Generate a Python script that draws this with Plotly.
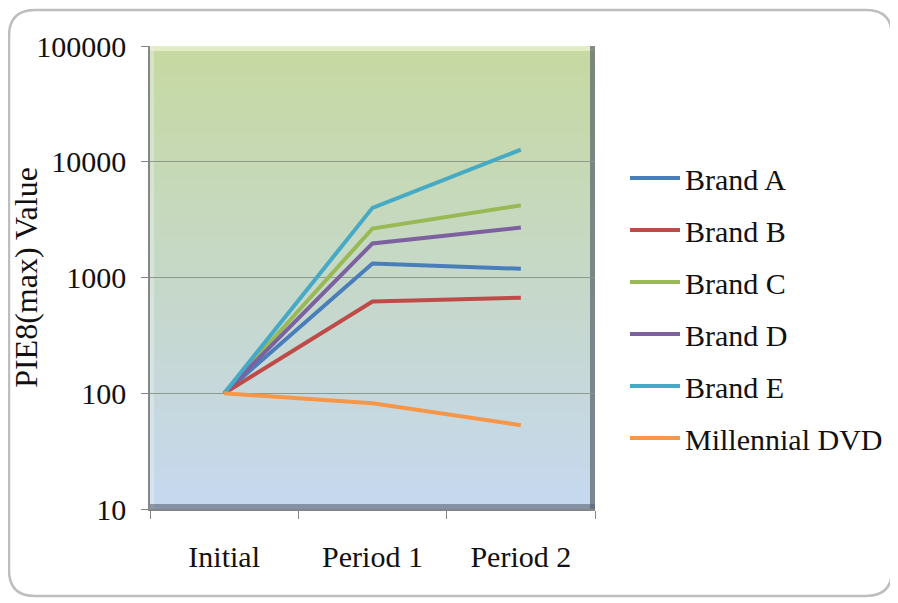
import plotly.graph_objects as go

# ---- data ----
periods = ["Initial", "Period 1", "Period 2"]
brand_a = [100, 1320, 1190]
brand_b = [100, 620, 670]
brand_c = [100, 2650, 4200]
brand_d = [100, 1970, 2700]
brand_e = [100, 4000, 12700]
millennial_dvd = [100, 82, 53]
y_ticks = [10, 100, 1000, 10000, 100000]

series = [
    ("Brand A", brand_a, "#4A7EBB"),
    ("Brand B", brand_b, "#BE4B48"),
    ("Brand C", brand_c, "#98B954"),
    ("Brand D", brand_d, "#7D60A0"),
    ("Brand E", brand_e, "#46AAC5"),
    ("Millennial DVD", millennial_dvd, "#F79646"),
]

OFF = 8  # page body margin offset
W, H = 898 - OFF, 603 - OFF
L, R, T, B = 150 - OFF, 595 - OFF, 46 - OFF, 509 - OFF  # plot area in figure px


def px(x):  # x in reference-image pixels -> paper
    return (x - OFF - L) / (R - L)


def py(y):
    return (B - (y - OFF)) / (B - T)


fig = go.Figure()
for i, (name, vals, col) in enumerate(series):
    fig.add_trace(go.Scatter(
        x=periods, y=vals, name=name, mode="lines",
        line=dict(color=col, width=4),
        legendgroup=f"g{i}",
    ))

shapes = []
# gradient background (green top -> light blue bottom)
top_c = (198, 217, 160)
bot_c = (198, 216, 240)
n = 80
for k in range(n):
    t = (k + 0.5) / n
    c = tuple(int(round(top_c[j] + (bot_c[j] - top_c[j]) * t)) for j in range(3))
    shapes.append(dict(type="rect", xref="paper", yref="paper",
                       x0=0, x1=1, y0=1 - (k + 1) / n - 0.002, y1=1 - k / n,
                       fillcolor=f"rgb{c}", line=dict(width=0), layer="below"))
# bevel: light top/left, dark right/bottom
shapes.append(dict(type="rect", xref="paper", yref="paper", x0=0, x1=1,
                   y0=py(46 + 5), y1=1, fillcolor="rgba(240,245,210,0.7)",
                   line=dict(width=0), layer="below"))
shapes.append(dict(type="rect", xref="paper", yref="paper", x0=0, x1=px(150 + 4),
                   y0=0, y1=1, fillcolor="rgba(230,238,240,0.5)",
                   line=dict(width=0), layer="below"))
shapes.append(dict(type="rect", xref="paper", yref="paper", x0=px(595 - 5), x1=1,
                   y0=0, y1=1, fillcolor="rgba(90,100,105,0.7)",
                   line=dict(width=0), layer="below"))
shapes.append(dict(type="rect", xref="paper", yref="paper", x0=0, x1=1,
                   y0=0, y1=py(509 - 5), fillcolor="rgba(90,100,115,0.6)",
                   line=dict(width=0), layer="below"))

# outer rounded border (reference pixel coords)
bx0, by0, bx1, by1, rr = 9, 10, 892, 596, 26
path = (
    f"M {px(bx0 + rr)},{py(by0)} L {px(bx1 - rr)},{py(by0)} "
    f"Q {px(bx1)},{py(by0)} {px(bx1)},{py(by0 + rr)} "
    f"L {px(bx1)},{py(by1 - rr)} Q {px(bx1)},{py(by1)} {px(bx1 - rr)},{py(by1)} "
    f"L {px(bx0 + rr)},{py(by1)} Q {px(bx0)},{py(by1)} {px(bx0)},{py(by1 - rr)} "
    f"L {px(bx0)},{py(by0 + rr)} Q {px(bx0)},{py(by0)} {px(bx0 + rr)},{py(by0)} Z"
)
shapes.append(dict(type="path", xref="paper", yref="paper", path=path,
                   line=dict(color="#BEBEBE", width=2.5), layer="below"))

font_family = "Liberation Serif, Times New Roman, serif"
txt = "#111111"

fig.update_layout(
    width=W, height=H,
    margin=dict(l=L, r=W - R, t=T, b=H - B, pad=0, autoexpand=False),
    paper_bgcolor="white",
    plot_bgcolor="rgba(0,0,0,0)",
    font=dict(family=font_family, size=30, color=txt),
    shapes=shapes,
    showlegend=True,
    legend=dict(
        x=px(625), xanchor="left", y=py(152), yanchor="top",
        font=dict(size=30, family=font_family, color=txt),
        tracegroupgap=10, itemwidth=50,
        bgcolor="rgba(0,0,0,0)",
    ),
    xaxis=dict(
        type="category", range=[-0.5, 2.5], automargin=False,
        showgrid=False, showline=True, linecolor="#868686", linewidth=1.5,
        ticks="outside", tickson="boundaries", ticklen=8, tickcolor="#868686",
        ticklabelstandoff=20,
        tickfont=dict(size=30, family=font_family, color=txt),
    ),
    yaxis=dict(
        type="log", range=[1, 5], automargin=False,
        tickvals=y_ticks, ticktext=[str(v) for v in y_ticks],
        showgrid=True, gridcolor="#8C9A8C", gridwidth=1.2,
        showline=True, linecolor="#868686", linewidth=1.5,
        ticks="outside", ticklen=7, tickcolor="#868686",
        ticklabelstandoff=9,
        tickfont=dict(size=30, family=font_family, color=txt),
        title=dict(text="PIE8(max) Value", font=dict(size=32, family=font_family, color=txt),
                   standoff=12),
        zeroline=False,
    ),
)

fig.write_html("out.html")
